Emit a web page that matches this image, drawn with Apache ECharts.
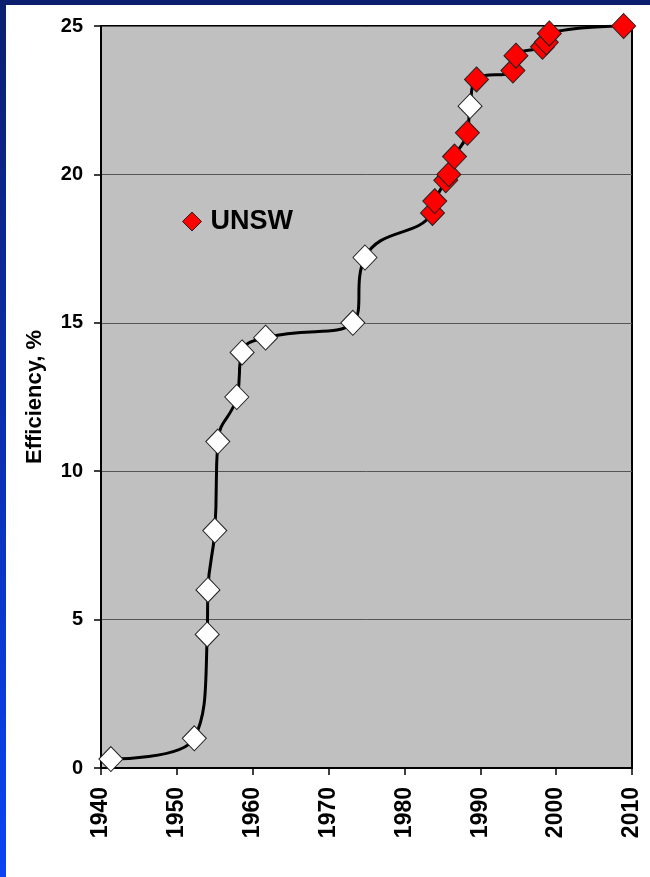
<!DOCTYPE html>
<html>
<head>
<meta charset="utf-8">
<script src="https://cdn.jsdelivr.net/npm/echarts@6/dist/echarts.min.js"></script>
<style>
  html, body { margin: 0; padding: 0; background: #ffffff; }
  #chart { width: 650px; height: 877px; }
</style>
</head>
<body>
<div id="chart"></div>
<script>
// Silicon solar cell efficiency records, year vs efficiency (%)
var otherYears = [1941.3, 1952.3, 1954.0, 1954.1, 1955.0, 1955.4, 1957.9, 1958.6, 1961.7, 1973.2, 1974.8, 1988.65];
var otherEff   = [0.3, 1.0, 4.5, 6.0, 8.0, 11.0, 12.5, 14.0, 14.5, 15.0, 17.2, 22.3];

var unswYears = [1983.7, 1984.0, 1985.45, 1985.85, 1986.6, 1988.3, 1989.5, 1994.3, 1994.7, 1998.2, 1998.7, 1999.1, 2008.9];
var unswEff   = [18.7, 19.1, 19.8, 20.0, 20.6, 21.4, 23.2, 23.5, 24.0, 24.3, 24.45, 24.75, 25.0];

var yearTicks = [1940, 1950, 1960, 1970, 1980, 1990, 2000, 2010];
var effTicks  = [0, 5, 10, 15, 20, 25];

function pairs(xs, ys) {
  return xs.map(function (x, i) { return [x, ys[i]]; });
}
var otherPts = pairs(otherYears, otherEff);
var unswPts = pairs(unswYears, unswEff);
// the trend curve runs through every record in date order
var allPts = otherPts.concat(unswPts).sort(function (a, b) { return a[0] - b[0]; });

var FONT = 'Arial, "Liberation Sans", sans-serif';
var chart = echarts.init(document.getElementById('chart'), null, { renderer: 'canvas' });

chart.setOption({
  backgroundColor: '#ffffff',
  animation: false,
  graphic: [
    {
      type: 'rect', left: 0, top: 0, z: 100,
      shape: { width: 650, height: 5 },
      style: { fill: '#0b1f6e' }
    },
    {
      type: 'rect', left: 0, top: 0, z: 100,
      shape: { width: 6, height: 877 },
      style: {
        fill: new echarts.graphic.LinearGradient(0, 0, 0, 1, [
          { offset: 0, color: '#0b1f6e' },
          { offset: 0.5, color: '#0b2fb0' },
          { offset: 1, color: '#0b44f5' }
        ])
      }
    }
  ],
  grid: {
    left: 101, right: 18, top: 26, bottom: 109,
    show: true,
    backgroundColor: '#c0c0c0',
    borderColor: '#000000',
    borderWidth: 2
  },
  legend: {
    data: [{ name: 'UNSW', icon: 'diamond' }],
    left: 177, top: 203,
    itemWidth: 19, itemHeight: 19,
    textStyle: { fontFamily: FONT, fontSize: 27, fontWeight: 'bold', color: '#000', padding: [0, 0, 0, 4] },
    itemStyle: { color: '#ff0000', borderColor: '#222', borderWidth: 1, opacity: 1 }
  },
  xAxis: {
    type: 'value',
    min: yearTicks[0], max: yearTicks[yearTicks.length - 1], interval: 10,
    axisLine: { show: true, lineStyle: { color: '#000', width: 2 } },
    axisTick: { show: true, inside: false, length: 7, lineStyle: { color: '#000', width: 1.5 } },
    splitLine: { show: false },
    axisLabel: {
      rotate: 90, margin: 19,
      fontFamily: FONT, fontSize: 23, fontWeight: 'bold', color: '#000',
      formatter: function (v) { return yearTicks.indexOf(v) >= 0 ? String(v) : ''; }
    }
  },
  yAxis: {
    type: 'value',
    min: effTicks[0], max: effTicks[effTicks.length - 1], interval: 5,
    name: 'Efficiency, %',
    nameLocation: 'middle',
    nameGap: 55,
    nameTextStyle: { fontFamily: FONT, fontSize: 22, fontWeight: 'bold', color: '#000' },
    axisLine: { show: true, lineStyle: { color: '#000', width: 2 } },
    axisTick: { show: true, inside: false, length: 7, lineStyle: { color: '#000', width: 1.5 } },
    splitLine: { show: true, lineStyle: { color: '#555', width: 1 } },
    axisLabel: {
      margin: 18,
      fontFamily: FONT, fontSize: 20, fontWeight: 'bold', color: '#000',
      formatter: function (v) { return effTicks.indexOf(v) >= 0 ? String(v) : ''; }
    }
  },
  series: [
    {
      name: 'trend',
      type: 'line',
      data: allPts,
      smooth: 0.5,
      showSymbol: false,
      lineStyle: { color: '#000', width: 3 },
      emphasis: { disabled: true },
      z: 2
    },
    {
      name: 'other',
      type: 'scatter',
      data: otherPts,
      symbol: 'diamond',
      symbolSize: [24, 25],
      itemStyle: { color: '#ffffff', borderColor: '#222', borderWidth: 1, opacity: 1 },
      z: 3
    },
    {
      name: 'UNSW',
      type: 'scatter',
      data: unswPts,
      symbol: 'diamond',
      symbolSize: [24, 25],
      itemStyle: { color: '#ff0000', borderColor: '#222', borderWidth: 1, opacity: 1 },
      z: 4
    }
  ]
});
</script>
</body>
</html>
